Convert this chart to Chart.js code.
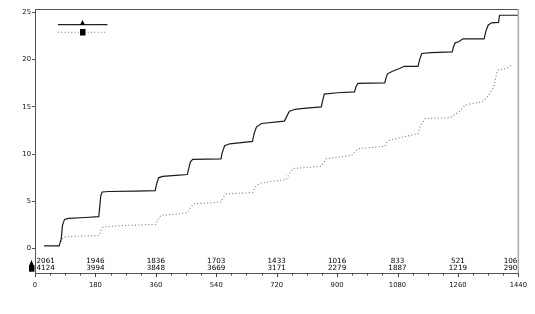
<!DOCTYPE html>
<html>
<head>
<meta charset="utf-8">
<script src="https://cdn.jsdelivr.net/npm/chart.js@4"></script>
<style>
  html, body { margin: 0; padding: 0; background: #fff; }
  #wrap { width: 535px; height: 314px; }
</style>
</head>
<body>
<div id="wrap"><canvas id="chart" width="535" height="314"></canvas></div>
<script>
// kurva garis penuh (segitiga)
const solidX = [27, 72, 78, 82, 88, 100, 150, 190, 193, 196, 200, 220, 300, 358, 362, 368, 380, 420, 454, 458, 463, 470, 554, 558, 565, 580, 648, 653, 660, 675, 743, 750, 758, 775, 800, 853, 857, 862, 900, 952, 956, 962, 1042, 1046, 1050, 1065, 1086, 1100, 1141, 1146, 1152, 1180, 1243, 1247, 1252, 1262, 1275, 1338, 1343, 1350, 1360, 1381, 1384, 1440];
const solidY = [0.3, 0.3, 1.0, 2.5, 3.1, 3.2, 3.3, 3.4, 4.5, 5.6, 6.0, 6.05, 6.1, 6.15, 6.8, 7.5, 7.65, 7.75, 7.85, 8.5, 9.2, 9.45, 9.5, 10.2, 10.9, 11.1, 11.35, 12.2, 12.9, 13.25, 13.5, 14.0, 14.55, 14.75, 14.85, 15.0, 15.7, 16.35, 16.5, 16.6, 17.1, 17.5, 17.55, 18.1, 18.5, 18.78, 19.07, 19.3, 19.3, 20.0, 20.65, 20.75, 20.83, 21.4, 21.78, 21.9, 22.2, 22.2, 23.0, 23.65, 23.9, 23.95, 24.7, 24.7];

// kurva titik-titik (kotak)
const dotX = [77, 82, 90, 150, 191, 196, 203, 260, 360, 366, 375, 420, 454, 462, 472, 520, 554, 560, 570, 620, 648, 656, 668, 700, 749, 757, 768, 810, 853, 860, 868, 910, 943, 952, 962, 1000, 1042, 1048, 1056, 1100, 1141, 1147, 1162, 1200, 1237, 1262, 1282, 1300, 1332, 1352, 1367, 1372, 1378, 1405, 1420];
const dotY = [0.7, 1.1, 1.25, 1.35, 1.4, 1.9, 2.3, 2.45, 2.57, 3.1, 3.53, 3.65, 3.8, 4.3, 4.75, 4.85, 4.94, 5.4, 5.8, 5.88, 5.95, 6.5, 6.9, 7.1, 7.32, 7.9, 8.48, 8.6, 8.72, 9.1, 9.53, 9.7, 9.88, 10.2, 10.58, 10.7, 10.84, 11.2, 11.47, 11.85, 12.17, 12.9, 13.76, 13.82, 13.87, 14.47, 15.18, 15.35, 15.53, 16.24, 17.12, 18.0, 18.9, 19.07, 19.42];

// jumlah berisiko
const riskTimes = [0, 180, 360, 540, 720, 900, 1080, 1260, 1440];
const riskTriangle = [2061, 1946, 1836, 1703, 1433, 1016, 833, 521, 106];
const riskSquare = [4124, 3994, 3848, 3669, 3171, 2279, 1887, 1219, 290];

const yTickValues = [0, 5, 10, 15, 20, 25];
const xTickStep = 45;
const xLabelStep = 180;

const toPoints = (xs, ys) => xs.map((x, i) => ({ x: x, y: ys[i] }));

function drawTriangle(ctx, cx, cy, w, h) {
  ctx.beginPath();
  ctx.moveTo(cx, cy - h / 2);
  ctx.lineTo(cx + w / 2, cy + h / 2);
  ctx.lineTo(cx - w / 2, cy + h / 2);
  ctx.closePath();
  ctx.fill();
}

const extras = {
  id: "extras",
  afterDraw(chart) {
    const ctx = chart.ctx;
    const a = chart.chartArea;
    const xs = chart.scales.x;
    const ys = chart.scales.y;
    ctx.save();

    // bingkai atas dan kanan
    ctx.lineWidth = 1;
    ctx.strokeStyle = "#555";
    ctx.beginPath();
    ctx.moveTo(a.left, a.top + 0.5);
    ctx.lineTo(a.right, a.top + 0.5);
    ctx.stroke();
    ctx.strokeStyle = "#aaa";
    ctx.lineWidth = 1.5;
    ctx.beginPath();
    ctx.moveTo(a.right, a.top);
    ctx.lineTo(a.right, a.bottom);
    ctx.stroke();

    // tick sumbu x (mayor lebih panjang)
    ctx.strokeStyle = "#444";
    ctx.lineWidth = 1;
    for (let v = 0; v <= 1440; v += xTickStep) {
      const px = Math.round(xs.getPixelForValue(v)) + 0.5;
      const len = v % xLabelStep === 0 ? 4 : 2.5;
      ctx.beginPath();
      ctx.moveTo(px, a.bottom);
      ctx.lineTo(px, a.bottom + len);
      ctx.stroke();
    }

    // tabel jumlah berisiko
    ctx.fillStyle = "#000";
    ctx.font = "7.2px 'DejaVu Sans'";
    ctx.textBaseline = "middle";
    const row1 = ys.getPixelForValue(-1.31);
    const row2 = ys.getPixelForValue(-2.01);
    riskTimes.forEach((t, i) => {
      let px = xs.getPixelForValue(t);
      if (i === 0) { ctx.textAlign = "left"; px += 1.5; }
      else if (i === riskTimes.length - 1) { ctx.textAlign = "right"; px -= 1; }
      else ctx.textAlign = "center";
      ctx.fillText(String(riskTriangle[i]), px, row1);
      ctx.fillText(String(riskSquare[i]), px, row2);
    });
    drawTriangle(ctx, a.left - 3.5, row1 + 2, 5, 6);
    ctx.fillRect(a.left - 6, row2 - 2.5, 5.5, 6.5);

    // legenda
    const lx1 = a.left + 23, lx2 = a.left + 72.5, lmid = a.left + 47.5;
    ctx.strokeStyle = "#222";
    ctx.lineWidth = 1.3;
    ctx.beginPath();
    ctx.moveTo(lx1, a.top + 15.7);
    ctx.lineTo(lx2, a.top + 15.7);
    ctx.stroke();
    ctx.fillStyle = "#000";
    drawTriangle(ctx, lmid, a.top + 13.5, 5, 5);
    ctx.strokeStyle = "#777";
    ctx.lineWidth = 1.1;
    ctx.setLineDash([1, 2.3]);
    ctx.beginPath();
    ctx.moveTo(lx1, a.top + 23.2);
    ctx.lineTo(lx2, a.top + 23.2);
    ctx.stroke();
    ctx.setLineDash([]);
    ctx.fillRect(lmid - 2.5, a.top + 20, 5.5, 6.5);

    ctx.restore();
  }
};

new Chart(document.getElementById("chart"), {
  type: "line",
  data: {
    datasets: [
      {
        data: toPoints(solidX, solidY),
        borderColor: "#1a1a1a",
        borderWidth: 1.2,
        pointRadius: 0,
        tension: 0,
        fill: false
      },
      {
        data: toPoints(dotX, dotY),
        borderColor: "#777",
        borderWidth: 1.1,
        borderDash: [1, 2.3],
        pointRadius: 0,
        tension: 0,
        fill: false
      }
    ]
  },
  options: {
    responsive: false,
    animation: false,
    layout: { padding: { top: 9, right: 16, left: 0, bottom: 0 } },
    plugins: {
      legend: { display: false },
      tooltip: { enabled: false }
    },
    scales: {
      x: {
        type: "linear",
        min: 0,
        max: 1440,
        afterFit: s => { s.height = 41; },
        afterBuildTicks: s => {
          s.ticks = riskTimes.map(v => ({ value: v }));
        },
        border: { color: "#555", width: 1 },
        grid: { drawOnChartArea: false, drawTicks: false },
        ticks: {
          color: "#111",
          font: { family: "DejaVu Sans", size: 6.8 },
          padding: 8,
          maxRotation: 0,
          autoSkip: false,
          callback: v => String(v)
        }
      },
      y: {
        type: "linear",
        min: -2.57,
        max: 25.36,
        afterFit: s => { s.width = 35; },
        afterBuildTicks: s => {
          s.ticks = yTickValues.map(v => ({ value: v }));
        },
        border: { color: "#555", width: 1 },
        grid: { drawOnChartArea: false, tickLength: 3, color: "#555" },
        ticks: {
          color: "#111",
          font: { family: "DejaVu Sans", size: 6.8 },
          padding: 1,
          callback: v => String(v)
        }
      }
    }
  },
  plugins: [extras]
});
</script>
</body>
</html>
